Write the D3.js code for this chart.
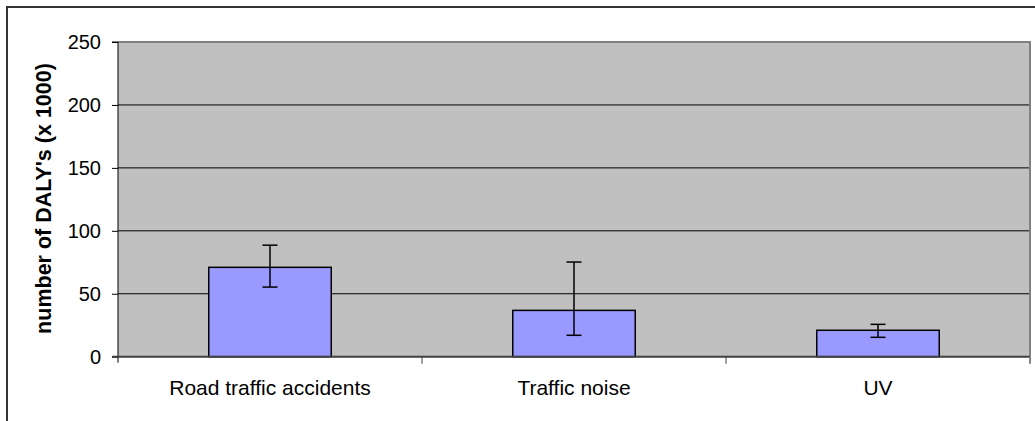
<!DOCTYPE html>
<html>
<head>
<meta charset="utf-8">
<script src="https://cdn.jsdelivr.net/npm/d3@7"></script>
<style>
  html, body { margin: 0; padding: 0; background: #fff; }
  svg { display: block; }
  text { font-family: "Liberation Sans", Arial, sans-serif; fill: #000; }
</style>
</head>
<body>
<svg id="chart" width="1035" height="421"></svg>
<script>
const categories = ["Road traffic accidents", "Traffic noise", "UV"];
const values = [71, 36.8, 21];
const errLow = [55.3, 17.0, 15.4];
const errHigh = [88.6, 75.2, 25.7];
const yTicks = [0, 50, 100, 150, 200, 250];
const yTitle = "number of DALY's (x 1000)";

(function () {
const svg = d3.select("#chart");
const pLeft = 118, pRight = 1030, pTop = 42, pBottom = 356.7;

const y = d3.scaleLinear().domain([0, 250]).range([pBottom, pTop]);
const x = d3.scaleBand().domain(categories).range([pLeft, pRight])
  .paddingInner(0.597).paddingOuter(0.2985);

// outer chart border (left and top visible)
svg.append("path")
  .attr("d", `M7,421 L7,7 L1035,7`)
  .attr("fill", "none").attr("stroke", "#333").attr("stroke-width", 2);

// plot background
svg.append("rect")
  .attr("x", pLeft).attr("y", pTop)
  .attr("width", pRight - pLeft).attr("height", pBottom - pTop)
  .attr("fill", "#C0C0C0");

// gridlines
svg.append("g").selectAll("line")
  .data(yTicks.filter(d => d > 0 && d < 250))
  .join("line")
  .attr("x1", pLeft).attr("x2", pRight)
  .attr("y1", d => y(d)).attr("y2", d => y(d))
  .attr("stroke", "#000").attr("stroke-width", 1);

// plot top & right border
svg.append("path")
  .attr("d", `M${pLeft},${y(250)} L${pRight},${y(250)} L${pRight},${pBottom}`)
  .attr("fill", "none").attr("stroke", "#808080").attr("stroke-width", 2);

// bars
svg.append("g").selectAll("rect")
  .data(categories)
  .join("rect")
  .attr("x", d => x(d))
  .attr("y", (d, i) => y(values[i]))
  .attr("width", x.bandwidth())
  .attr("height", (d, i) => y(0) - y(values[i]))
  .attr("fill", "#9999FF")
  .attr("stroke", "#000").attr("stroke-width", 1.5);

// error bars
const eb = svg.append("g").attr("stroke", "#000").attr("stroke-width", 1.5);
categories.forEach((c, i) => {
  const cx = x(c) + x.bandwidth() / 2;
  const hw = 7.5;
  eb.append("line").attr("x1", cx).attr("x2", cx)
    .attr("y1", y(errHigh[i])).attr("y2", y(errLow[i]));
  eb.append("line").attr("x1", cx - hw).attr("x2", cx + hw)
    .attr("y1", y(errHigh[i])).attr("y2", y(errHigh[i]));
  eb.append("line").attr("x1", cx - hw).attr("x2", cx + hw)
    .attr("y1", y(errLow[i])).attr("y2", y(errLow[i]));
});

// y axis
const yAxis = d3.axisLeft(y).tickValues(yTicks).tickSize(6).tickPadding(11);
const gy = svg.append("g").attr("transform", `translate(${pLeft},0)`).call(yAxis);
gy.select(".domain").attr("stroke", "#000").attr("stroke-width", 1)
  .attr("d", `M-6,${y(250)}H0V${pBottom + 6}`);
gy.selectAll(".tick line").attr("stroke", "#000");
gy.selectAll(".tick text")
  .style("font-family", '"Liberation Sans", Arial, sans-serif')
  .style("font-size", "20px").attr("fill", "#000");

// x axis line (zero line)
svg.append("line")
  .attr("x1", pLeft - 6).attr("x2", pRight)
  .attr("y1", y(0)).attr("y2", y(0))
  .attr("stroke", "#404040").attr("stroke-width", 2);

// category ticks at band boundaries
const step = x.step();
const boundaries = categories.map(c => x(c) - (step - x.bandwidth()) / 2);
boundaries.push(pRight);
svg.append("g").selectAll("line")
  .data(boundaries.slice(1))
  .join("line")
  .attr("x1", d => d).attr("x2", d => d)
  .attr("y1", y(0)).attr("y2", y(0) + 7)
  .attr("stroke", (d, i, n) => i === n.length - 1 ? "#808080" : "#404040")
  .attr("stroke-width", (d, i, n) => i === n.length - 1 ? 2 : 1);

// category labels
svg.append("g").selectAll("text")
  .data(categories)
  .join("text")
  .attr("x", d => x(d) + x.bandwidth() / 2)
  .attr("y", 395)
  .attr("text-anchor", "middle")
  .style("font-size", "21px")
  .text(d => d);

// y title
svg.append("text")
  .attr("transform", `translate(50.5,${(62 + 335) / 2}) rotate(-90)`)
  .attr("text-anchor", "middle")
  .style("font-size", "21.5px")
  .style("font-weight", "bold")
  .text(yTitle);
})();
</script>
</body>
</html>
